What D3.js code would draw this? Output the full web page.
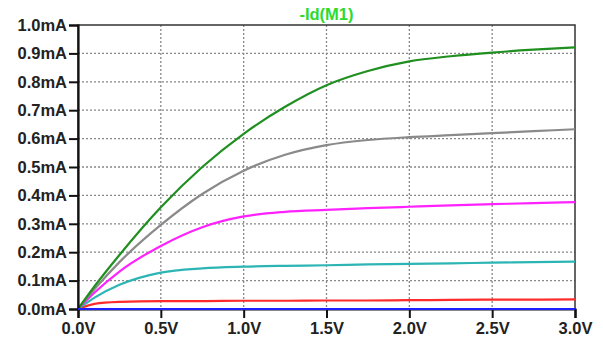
<!DOCTYPE html>
<html>
<head>
<meta charset="utf-8">
<script src="https://cdn.jsdelivr.net/npm/d3@7"></script>
<style>
  body { margin: 0; background: #fff; }
  svg text { font-family: "Liberation Sans", Arial, sans-serif; font-weight: bold; }
</style>
</head>
<body>
<div id="chart"></div>
<script>
//--------------------------------------------------------------------------------
// data: -Id(M1) vs Vds, one curve per gate step
var vds      = [0, 0.1, 0.25, 0.5, 0.75, 1.0, 1.25, 1.5, 1.75, 2.0, 2.25, 2.5, 2.75, 3.0];
var idGreen  = [0, 0.08, 0.19, 0.358, 0.50, 0.617, 0.712, 0.788, 0.838, 0.872, 0.89, 0.903, 0.913, 0.921];
var idGray   = [0, 0.07, 0.165, 0.296, 0.405, 0.487, 0.543, 0.577, 0.595, 0.605, 0.612, 0.619, 0.626, 0.633];
var idPink   = [0, 0.058, 0.132, 0.222, 0.288, 0.326, 0.342, 0.349, 0.355, 0.360, 0.365, 0.369, 0.373, 0.376];
var idCyan   = [0, 0.04, 0.085, 0.128, 0.143, 0.149, 0.152, 0.154, 0.157, 0.159, 0.161, 0.163, 0.165, 0.167];
var idRed    = [0, 0.018, 0.025, 0.028, 0.028, 0.029, 0.029, 0.030, 0.030, 0.031, 0.032, 0.033, 0.033, 0.034];
var idBlue   = [0, 0, 0, 0, 0, 0, 0, 0, 0, 0, 0, 0, 0, 0];

var xTicks = [0, 0.5, 1.0, 1.5, 2.0, 2.5, 3.0];
var yTicks = [0, 0.1, 0.2, 0.3, 0.4, 0.5, 0.6, 0.7, 0.8, 0.9, 1.0];
var title  = "-Id(M1)";

var series = [
   {values: idBlue,  color: "#1f1fff"},
   {values: idRed,   color: "#ff2a2a"},
   {values: idCyan,  color: "#2db5b5"},
   {values: idPink,  color: "#ff22ff"},
   {values: idGray,  color: "#8a8a8a"},
   {values: idGreen, color: "#1f8f1f"}
];
//--------------------------------------------------------------------------------
var width = 603, height = 342;
var plot = {left: 78, right: 575, top: 25, bottom: 309};

var svg = d3.select("#chart").append("svg")
    .attr("width", width)
    .attr("height", height);

var xScale = d3.scaleLinear().domain([0, 3]).range([plot.left, plot.right]);
var yScale = d3.scaleLinear().domain([0, 1]).range([plot.bottom, plot.top]);

   // dotted grid
svg.append("g").selectAll("line")
   .data(xTicks.slice(1, -1))
   .enter().append("line")
   .attr("x1", function(d){ return xScale(d); })
   .attr("x2", function(d){ return xScale(d); })
   .attr("y1", plot.top).attr("y2", plot.bottom)
   .attr("stroke", "#888").attr("stroke-width", 1.3)
   .attr("stroke-dasharray", "2,2");

svg.append("g").selectAll("line")
   .data(yTicks.slice(1, -1))
   .enter().append("line")
   .attr("y1", function(d){ return yScale(d); })
   .attr("y2", function(d){ return yScale(d); })
   .attr("x1", plot.left).attr("x2", plot.right)
   .attr("stroke", "#888").attr("stroke-width", 1.3)
   .attr("stroke-dasharray", "2,2");

   // frame
svg.append("rect")
   .attr("x", plot.left).attr("y", plot.top)
   .attr("width", plot.right - plot.left).attr("height", plot.bottom - plot.top)
   .attr("fill", "none").attr("stroke", "#333").attr("stroke-width", 1.5);

var line = d3.line()
   .x(function(d){ return xScale(d[0]); })
   .y(function(d){ return yScale(d[1]); })
   .curve(d3.curveMonotoneX);

series.forEach(function(s){
   svg.append("path")
      .datum(vds.map(function(v, i){ return [v, s.values[i]]; }))
      .attr("d", line)
      .attr("fill", "none")
      .attr("stroke", s.color)
      .attr("stroke-width", 2.2);
   });

var xAxis = d3.axisBottom(xScale)
   .tickValues(xTicks)
   .tickSize(9)
   .tickPadding(4)
   .tickFormat(function(d){ return d3.format(".1f")(d) + "V"; });

var yAxis = d3.axisLeft(yScale)
   .tickValues(yTicks)
   .tickSize(9)
   .tickPadding(2)
   .tickFormat(function(d){ return d3.format(".1f")(d) + "mA"; });

var gx = svg.append("g")
   .attr("transform", "translate(0," + plot.bottom + ")")
   .call(xAxis);

var gy = svg.append("g")
   .attr("transform", "translate(" + plot.left + ",0)")
   .call(yAxis);

[gx, gy].forEach(function(g){
   g.select(".domain").attr("stroke", "#111").attr("stroke-width", 2.2);
   g.selectAll(".tick line").attr("stroke", "#111").attr("stroke-width", 2);
   g.selectAll(".tick text")
      .attr("fill", "#222")
      .style("font-size", "16.5px")
      .style("font-family", "'Liberation Sans', Arial, sans-serif")
      .style("font-weight", "bold");
   });

   // blue trace runs along the bottom axis, redraw it on top
svg.append("path")
   .datum(vds.map(function(v, i){ return [v, idBlue[i]]; }))
   .attr("d", line)
   .attr("fill", "none")
   .attr("stroke", "#1f1fff")
   .attr("stroke-width", 2.2);

svg.append("text")
   .attr("x", (plot.left + plot.right) / 2)
   .attr("y", 20)
   .attr("text-anchor", "middle")
   .attr("fill", "#2ddb2d")
   .style("font-size", "16.5px")
   .text(title);
</script>
</body>
</html>
